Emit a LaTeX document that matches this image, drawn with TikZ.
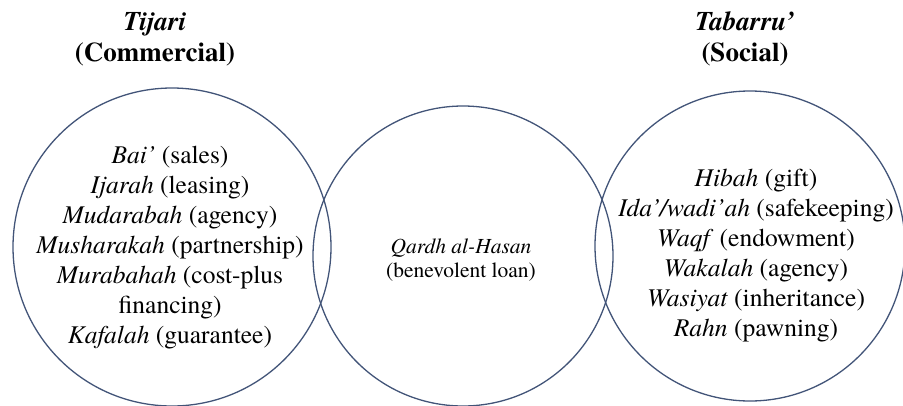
\documentclass[tikz,border=0pt]{standalone}
\usepackage{fontspec}
\setmainfont{texgyretermes}[Extension=.otf,
	UprightFont=*-regular, BoldFont=*-bold,
	ItalicFont=*-italic, BoldItalicFont=*-bolditalic]
\usepackage{tikz}
\definecolor{setline}{RGB}{66,84,120}
\tikzset{
SET/.style ={draw=setline,line width=1.3pt},
ITEMS/.style={align=center,inner sep=0pt,font=\fontsize{25.5}{30}\selectfont},
HEAD/.style={align=center,inner sep=0pt,font=\fontsize{27}{31}\selectfont\bfseries},
}

\begin{document}
\begin{tikzpicture}
[x=1pt, y=-1pt]
	\useasboundingbox (0,0) rectangle (903,405);
	% the three sets
	\draw[SET] (172,247) circle (159);
	\draw[SET] (463,256) circle (150);
	\draw[SET] (750,246) circle (155);
	% headings
	\node[HEAD] (tijari) at (155,39) {\textit{Tijari}\\(Commercial)};
	\node[HEAD] (tabarru) at (745,39) {\textit{Tabarru’}\\(Social)};
	% contracts in each set
	\node[ITEMS] (commercial) at (170,248) {\textit{Bai’} (sales)\\
		\textit{Ijarah} (leasing)\\
		\textit{Mudarabah} (agency)\\
		\textit{Musharakah} (partnership)\\
		\textit{Murabahah} (cost-plus\\
		financing)\\
		\textit{Kafalah} (guarantee)};
	\node[ITEMS,font=\fontsize{21.5}{24}\selectfont] (loan) at (461,260) {\textit{Qardh al-Hasan}\\(benevolent loan)};
	\node[ITEMS] (social) at (756,256) {\textit{Hibah} (gift)\\
		\textit{Ida’/wadi’ah} (safekeeping)\\
		\textit{Waqf} (endowment)\\
		\textit{Wakalah} (agency)\\
		\textit{Wasiyat} (inheritance)\\
		\textit{Rahn} (pawning)};
\end{tikzpicture}
\end{document}
